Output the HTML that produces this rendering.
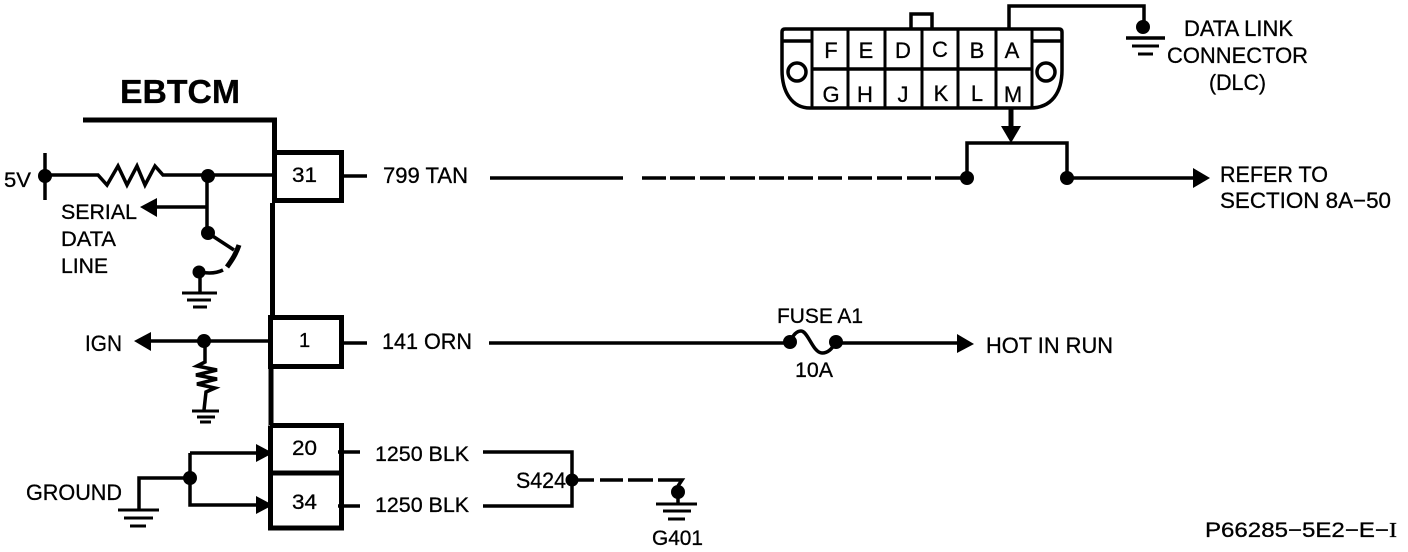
<!DOCTYPE html>
<html><head><meta charset="utf-8"><style>
html,body{margin:0;padding:0;background:#fff;width:1408px;height:552px;overflow:hidden}
svg{display:block}
text{font-family:"Liberation Sans",sans-serif;fill:#000;stroke:#000;stroke-width:.3;font-size:22px}
.w{fill:none;stroke:#000;stroke-width:3.5}
.n{fill:none;stroke:#000;stroke-width:3}
.t{fill:none;stroke:#000;stroke-width:5}
.b{fill:none;stroke:#000;stroke-width:5}
</style></head><body>
<svg width="1408" height="552" viewBox="0 0 1408 552">
<rect width="1408" height="552" fill="#fff"/>
<!-- EBTCM -->
<text x="120" y="103" textLength="120" lengthAdjust="spacingAndGlyphs" style="font-size:33px;font-weight:bold">EBTCM</text>
<path class="b" d="M83 120H274.500V152"/>
<path class="b" d="M274.500 150V203M272.500 203V318M271 366V425"/>
<!-- Pin boxes -->
<path class="b" d="M274 152.500H341.500V200.500H274"/>
<path d="M268 315H344V369H268ZM273 320V364H339V320Z" fill-rule="evenodd"/>
<path class="b" d="M270 425.500H341.500V528H270.500V425.500"/>
<path class="t" d="M271 473H341"/>
<text x="292" y="182" textLength="25" lengthAdjust="spacingAndGlyphs" style="font-size:21px">31</text>
<text x="299" y="347" style="font-size:20px">1</text>
<text x="292" y="455" textLength="25" lengthAdjust="spacingAndGlyphs" style="font-size:21px">20</text>
<text x="292" y="509" textLength="25" lengthAdjust="spacingAndGlyphs" style="font-size:21px">34</text>
<!-- 5V area -->
<text x="4" y="187" textLength="27" lengthAdjust="spacingAndGlyphs" style="font-size:21px">5V</text>
<path class="w" d="M45 153V200"/>
<circle cx="45" cy="176" r="7"/>
<path class="w" d="M45 175H98L107 185L118 166L127 185L137 166L145 185L155 166L163 175H272"/>
<circle cx="208" cy="176" r="7"/>
<path class="w" d="M207 176V232M207 207H150"/>
<path d="M140 207L157 198V217Z"/>
<text x="61" y="219" textLength="76" lengthAdjust="spacingAndGlyphs" style="font-size:21px">SERIAL</text>
<text x="61" y="246" textLength="55" lengthAdjust="spacingAndGlyphs" style="font-size:21px">DATA</text>
<text x="61" y="273" textLength="47" lengthAdjust="spacingAndGlyphs" style="font-size:21px">LINE</text>
<circle cx="208" cy="233" r="7"/>
<path class="w" d="M208 233L234 250"/>
<path class="t" d="M239 245C236 254 232 260 227 267"/>
<path class="w" d="M200 272C210 274 217 273 223 270"/>
<circle cx="199" cy="272" r="6.500"/>
<path class="w" d="M200 272V292"/>
<path class="n" d="M182 293H217M187 300H211M193 307H207"/>
<!-- IGN -->
<text x="85" y="351" textLength="37" lengthAdjust="spacingAndGlyphs">IGN</text>
<path d="M134 341L151 332V351Z"/>
<path class="w" d="M148 341H270"/>
<circle cx="204" cy="341" r="7"/>
<path class="w" d="M205 341V362L197 366L217 370L196 375L217 379L197 384L215 388L206 392L204 410"/>
<path class="n" d="M192 411H219M197 417H215M200 422H211"/>
<!-- Ground -->
<text x="26" y="500" textLength="96" lengthAdjust="spacingAndGlyphs">GROUND</text>
<path class="w" d="M139 509V478H190M190 453V505H262M190 453H262"/>
<circle cx="190" cy="478" r="7"/>
<path d="M256 444L273 453L256 462Z"/>
<path d="M256 496L273 505L256 514Z"/>
<path class="n" d="M118 510H159M124 518H153M130 526H146"/>
<!-- Stubs -->
<path class="w" d="M343 176H367M343 343H367M338 452H360M338 506H360"/>
<!-- Wire labels -->
<text x="383" y="183" textLength="85" lengthAdjust="spacingAndGlyphs">799 TAN</text>
<text x="382" y="349" textLength="90" lengthAdjust="spacingAndGlyphs">141 ORN</text>
<text x="375" y="461" textLength="94" lengthAdjust="spacingAndGlyphs" style="font-size:21px">1250 BLK</text>
<text x="375" y="512" textLength="94" lengthAdjust="spacingAndGlyphs" style="font-size:21px">1250 BLK</text>
<!-- 799 TAN wire -->
<path class="w" d="M490 178H623M642 178H666M670 178H695M700 178H725M730 178H755M759 178H784M788 178H813M818 178H842M848 178H872M877 178H902M907 178H931M935 178H967"/>
<circle cx="967" cy="178" r="7"/>
<circle cx="1067" cy="178" r="7"/>
<path class="w" d="M967 178V143H1067V178H1200"/>
<path d="M1193 168L1210 178L1193 188Z"/>
<text x="1220" y="182" textLength="108" lengthAdjust="spacingAndGlyphs">REFER TO</text>
<text x="1220" y="208" textLength="171" lengthAdjust="spacingAndGlyphs">SECTION 8A−50</text>
<!-- 141 ORN wire -->
<path class="w" d="M489 343H790"/>
<circle cx="790" cy="342" r="7"/>
<circle cx="836" cy="342" r="7"/>
<path class="w" d="M790 342C793 335 797 331 801 331C808 331 813 353 822 353C828 353 832 349 836 342"/>
<path class="w" d="M836 343H960"/>
<path d="M957 334L974 344L957 353Z"/>
<text x="777" y="323" textLength="86" lengthAdjust="spacingAndGlyphs" style="font-size:21px">FUSE A1</text>
<text x="795" y="377" textLength="38" lengthAdjust="spacingAndGlyphs" style="font-size:21px">10A</text>
<text x="986" y="353" textLength="127" lengthAdjust="spacingAndGlyphs">HOT IN RUN</text>
<!-- S424 -->
<path class="w" d="M483 452H572V506H483"/>
<text x="516" y="488" textLength="50" lengthAdjust="spacingAndGlyphs">S424</text>
<circle cx="572" cy="480" r="6.500"/>
<path class="w" d="M572 480H594M600 480H623M628 480H653M658 480H682L678 486"/>
<circle cx="678" cy="492" r="7"/>
<path class="n" d="M656 504H697M663 511H691M668 519H685"/>
<path class="w" d="M678 492V504"/>
<text x="652" y="545" textLength="51" lengthAdjust="spacingAndGlyphs" style="font-size:21px">G401</text>
<text x="1205" y="537" textLength="192" lengthAdjust="spacingAndGlyphs" style="font-size:21px">P66285−5E2−E−<tspan font-family="Liberation Serif">I</tspan></text>
<!-- Connector -->
<path class="w" d="M782 32Q782 29 785 29H1059Q1062 29 1062 32V70C1062 92 1052 108 1030 108H810C792 108 782 92 782 70Z"/>
<path class="w" d="M911 29V14H932V29"/>
<path class="n" d="M812 29V108M848 29V108M885 29V108M922 29V108M958 29V108M996 29V108M1032 29V108"/>
<path class="w" d="M812 69H1032M783 41H812M1032 41H1061"/>
<circle class="w" cx="797" cy="72" r="9"/>
<circle class="w" cx="1046" cy="72" r="9"/>
<g text-anchor="middle">
<text x="831" y="58">F</text><text x="866" y="58">E</text><text x="903" y="58">D</text><text x="940" y="57">C</text><text x="977" y="58">B</text><text x="1012" y="58">A</text>
<text x="831" y="102">G</text><text x="865" y="102">H</text><text x="903" y="102">J</text><text x="941" y="101">K</text><text x="977" y="101">L</text><text x="1013" y="102">M</text>
</g>
<path class="w" d="M1009 29V6H1144V28"/>
<circle cx="1143" cy="27" r="7"/>
<path class="w" d="M1126 38H1165"/>
<path class="n" d="M1132 46H1159M1138 54H1153"/>
<path class="t" d="M1011 108V128" stroke-width="4"/>
<path d="M1001 126H1021L1011 143Z"/>
<text x="1184" y="36" textLength="109" lengthAdjust="spacingAndGlyphs">DATA LINK</text>
<text x="1167" y="63" textLength="141" lengthAdjust="spacingAndGlyphs">CONNECTOR</text>
<text x="1209" y="90" textLength="57" lengthAdjust="spacingAndGlyphs">(DLC)</text>
</svg>
</body></html>
